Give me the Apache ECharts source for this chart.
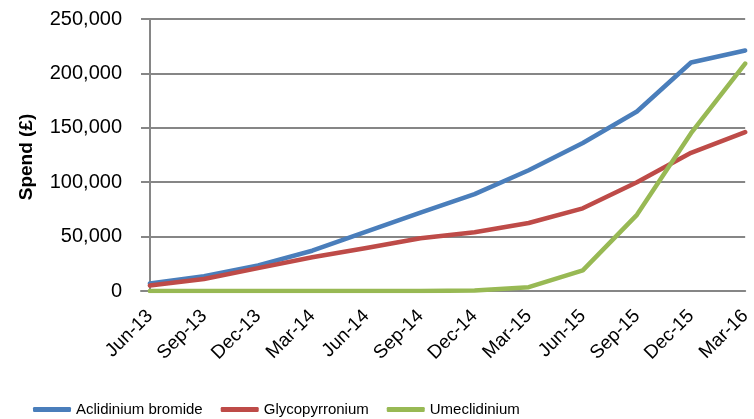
<!DOCTYPE html>
<html>
<head>
<meta charset="utf-8">
<script src="https://cdn.jsdelivr.net/npm/echarts@6/dist/echarts.min.js"></script>
<style>
  html, body { margin: 0; padding: 0; background: #fff; }
  #chart { width: 754px; height: 419px; }
</style>
</head>
<body>
<div id="chart"></div>
<script>
// Quarterly cumulative spend by drug
var categories = ['Jun-13', 'Sep-13', 'Dec-13', 'Mar-14', 'Jun-14', 'Sep-14',
                  'Dec-14', 'Mar-15', 'Jun-15', 'Sep-15', 'Dec-15', 'Mar-16'];
var aclidinium = [7000, 13500, 23500, 37000, 54500, 72000, 89000, 111000, 136000, 165000, 210000, 221000];
var glycopyrronium = [5000, 11000, 21000, 31000, 39500, 48500, 54000, 62500, 76000, 100000, 127000, 146000];
var umeclidinium = [0, 0, 0, 0, 0, 0, 500, 3500, 19000, 70000, 145000, 209000];
var yTicks = [0, 50000, 100000, 150000, 200000, 250000];

function pairs(values) {
  return values.map(function (v, i) { return [i, v]; });
}

var gray = '#868686';
var font = 'Liberation Sans, Arial, sans-serif';

var chart = echarts.init(document.getElementById('chart'), null, { renderer: 'canvas' });
chart.setOption({
  animation: false,
  backgroundColor: '#fff',
  grid: { left: 141, top: 19, width: 614, height: 272, containLabel: false },
  xAxis: {
    type: 'value',
    min: -0.164,
    max: 11,
    splitLine: { show: false },
    axisLine: { show: true, lineStyle: { color: gray, width: 2 } },
    axisTick: { show: false },
    axisLabel: {
      customValues: categories.map(function (c, i) { return i; }),
      formatter: function (v) { return categories[Math.round(v)]; },
      rotate: 45,
      margin: 22,
      color: '#000',
      fontSize: 19,
      fontFamily: font
    }
  },
  yAxis: {
    type: 'value',
    min: 0,
    max: 250000,
    interval: 50000,
    name: 'Spend (£)',
    nameLocation: 'middle',
    nameGap: 105,
    nameTextStyle: { color: '#000', fontSize: 19, fontWeight: 'bold', fontFamily: font, padding: [0, 4, 0, 0] },
    axisLine: { show: true, lineStyle: { color: gray, width: 2 } },
    axisTick: { show: false },
    splitLine: { lineStyle: { color: gray, width: 2 } },
    axisLabel: {
      customValues: yTicks,
      formatter: function (v) { return v.toLocaleString('en-GB'); },
      margin: 19,
      color: '#000',
      fontSize: 20,
      fontFamily: font
    }
  },
  legend: {
    left: 28,
    top: 397,
    icon: 'roundRect',
    itemWidth: 38,
    itemHeight: 5,
    itemGap: 18,
    textStyle: { color: '#000', fontSize: 15, fontFamily: font },
    data: ['Aclidinium bromide', 'Glycopyrronium', 'Umeclidinium']
  },
  series: [
    {
      name: 'Aclidinium bromide', type: 'line', data: pairs(aclidinium),
      showSymbol: false, symbol: 'none', color: '#4A7EBB',
      lineStyle: { width: 4.5, color: '#4A7EBB', cap: 'round', join: 'round' }
    },
    {
      name: 'Glycopyrronium', type: 'line', data: pairs(glycopyrronium),
      showSymbol: false, symbol: 'none', color: '#BE4B48',
      lineStyle: { width: 4.5, color: '#BE4B48', cap: 'round', join: 'round' }
    },
    {
      name: 'Umeclidinium', type: 'line', data: pairs(umeclidinium),
      showSymbol: false, symbol: 'none', color: '#98B954',
      lineStyle: { width: 4.5, color: '#98B954', cap: 'round', join: 'round' }
    }
  ]
});
</script>
</body>
</html>
